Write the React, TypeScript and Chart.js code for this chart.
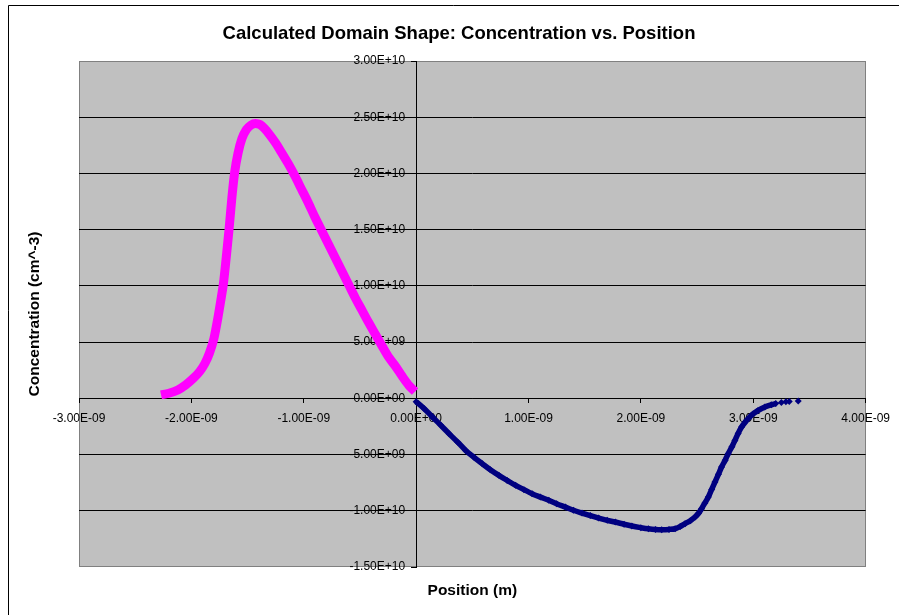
import React, { useEffect, useRef } from 'react';
import { Chart, registerables } from 'chart.js';

Chart.register(...registerables);

const FONT = "'Liberation Sans', Arial, Helvetica, sans-serif";
const MAGENTA = '#FF00FF';
const NAVY = '#000080';

const TITLE = 'Calculated Domain Shape: Concentration vs. Position';
const X_TITLE = 'Position (m)';
const Y_TITLE = 'Concentration (cm^-3)';

const xTickValues = [-3e-9, -2e-9, -1e-9, 0, 1e-9, 2e-9, 3e-9, 4e-9];
const yTickValues = [-1.5e10, -1e10, -5e9, 0, 5e9, 1e10, 1.5e10, 2e10, 2.5e10, 3e10];

// Series 1 (magenta): negative positions
const magentaX = [
  -2.27e-9, -2.2e-9, -2.12e-9, -2.05e-9, -1.98e-9, -1.925e-9, -1.88e-9, -1.84e-9, -1.8e-9, -1.765e-9,
  -1.74e-9, -1.715e-9, -1.69e-9, -1.665e-9, -1.64e-9, -1.615e-9, -1.585e-9, -1.55e-9, -1.51e-9, -1.47e-9,
  -1.43e-9, -1.39e-9, -1.35e-9, -1.3e-9, -1.25e-9, -1.2e-9, -1.14e-9, -1.08e-9, -1.02e-9, -0.96e-9,
  -0.9e-9, -0.84e-9, -0.78e-9, -0.72e-9, -0.66e-9, -0.6e-9, -0.54e-9, -0.48e-9, -0.42e-9, -0.36e-9,
  -0.3e-9, -0.24e-9, -0.18e-9, -0.12e-9, -0.06e-9, -0.01e-9,
];
const magentaY = [
  0.03e10, 0.045e10, 0.075e10, 0.12e10, 0.18e10, 0.24e10, 0.31e10, 0.4e10, 0.53e10, 0.71e10,
  0.86e10, 1.02e10, 1.25e10, 1.5e10, 1.78e10, 2.01e10, 2.18e10, 2.31e10, 2.39e10, 2.43e10,
  2.445e10, 2.435e10, 2.4e10, 2.34e10, 2.27e10, 2.19e10, 2.09e10, 1.98e10, 1.86e10, 1.74e10,
  1.61e10, 1.49e10, 1.37e10, 1.25e10, 1.13e10, 1.01e10, 0.89e10, 0.78e10, 0.67e10, 0.565e10,
  0.46e10, 0.36e10, 0.28e10, 0.19e10, 0.11e10, 0.06e10,
];

// Series 2 (navy): positive positions
const navyX = [
  0, 0.07e-9, 0.145e-9, 0.22e-9, 0.293e-9, 0.37e-9, 0.441e-9, 0.515e-9, 0.588e-9, 0.66e-9,
  0.736e-9, 0.81e-9, 0.885e-9, 0.96e-9, 1.032e-9, 1.105e-9, 1.18e-9, 1.25e-9, 1.328e-9, 1.4e-9,
  1.476e-9, 1.55e-9, 1.624e-9, 1.7e-9, 1.772e-9, 1.85e-9, 1.92e-9, 2.0e-9, 2.067e-9, 2.13e-9,
  2.185e-9, 2.25e-9, 2.304e-9, 2.35e-9, 2.393e-9, 2.44e-9, 2.482e-9, 2.515e-9, 2.54e-9, 2.57e-9,
  2.6e-9, 2.63e-9, 2.659e-9, 2.69e-9, 2.718e-9, 2.75e-9, 2.777e-9, 2.81e-9, 2.837e-9, 2.865e-9,
  2.896e-9, 2.94e-9, 2.984e-9, 3.04e-9, 3.103e-9, 3.16e-9, 3.2e-9, 3.25e-9, 3.29e-9, 3.32e-9,
  3.4e-9,
];
const navyY = [
  -0.03e10, -0.09e10, -0.166e10, -0.24e10, -0.314e10, -0.39e10, -0.463e10, -0.525e10, -0.581e10, -0.635e10,
  -0.685e10, -0.73e10, -0.774e10, -0.812e10, -0.848e10, -0.878e10, -0.907e10, -0.937e10, -0.967e10, -0.995e10,
  -1.02e10, -1.043e10, -1.065e10, -1.085e10, -1.1e10, -1.12e10, -1.136e10, -1.15e10, -1.16e10, -1.166e10,
  -1.168e10, -1.166e10, -1.16e10, -1.14e10, -1.115e10, -1.088e10, -1.056e10, -1.02e10, -0.981e10, -0.93e10,
  -0.878e10, -0.81e10, -0.745e10, -0.676e10, -0.611e10, -0.55e10, -0.492e10, -0.43e10, -0.374e10, -0.312e10,
  -0.255e10, -0.198e10, -0.151e10, -0.11e10, -0.077e10, -0.058e10, -0.047e10, -0.038e10, -0.031e10, -0.028e10,
  -0.024e10,
];

const NAVY_TAIL_START = 3.2e-9;
const Y_LABEL_GAP = 11;

function sci(v: number): string {
  if (Math.abs(v) < 1e-20) return '0.00E+00';
  const [m, e] = v.toExponential(2).split('e');
  const sign = e[0] === '-' ? '-' : '+';
  const digits = e.replace(/^[+-]/, '').padStart(2, '0');
  return `${m}E${sign}${digits}`;
}

const plotBackground = {
  id: 'plotBackground',
  afterUpdate(chart: any) {
    // Chart.js ignores tick padding for y axes placed at a data position; shift labels left.
    const s = chart.scales.y;
    if (s && !s.__shifted) {
      const orig = s.drawLabels.bind(s);
      s.drawLabels = (area: any) => {
        chart.ctx.save();
        chart.ctx.translate(-Y_LABEL_GAP, 0);
        orig(area);
        chart.ctx.restore();
      };
      s.__shifted = true;
    }
  },
  beforeDraw(chart: any) {
    const { ctx, chartArea } = chart;
    const { left, top, right, bottom } = chartArea;
    ctx.save();
    ctx.fillStyle = '#C0C0C0';
    ctx.fillRect(left, top, right - left, bottom - top);
    ctx.strokeStyle = '#808080';
    ctx.lineWidth = 1;
    ctx.strokeRect(Math.round(left) + 0.5, Math.round(top) + 0.5, Math.round(right - left) - 1, Math.round(bottom - top) - 1);
    // outer chart frame
    ctx.strokeStyle = '#000';
    ctx.beginPath();
    ctx.moveTo(8.5, chart.height);
    ctx.lineTo(8.5, 5.5);
    ctx.lineTo(chart.width, 5.5);
    ctx.stroke();
    ctx.restore();
  },
};

export default function App() {
  const ref = useRef<HTMLCanvasElement>(null);

  useEffect(() => {
    const canvas = ref.current;
    if (!canvas) return;
    Chart.defaults.font.family = FONT;

    const tickFont = { family: FONT, size: 12 };
    const axisTitleFont = { family: FONT, size: 15.5, weight: 'bold' as const, lineHeight: 1.2 };

    const chart = new Chart(canvas, {
      type: 'scatter',
      data: {
        datasets: [
          {
            label: 'Negative side',
            data: magentaX.map((x, i) => ({ x, y: magentaY[i] })),
            xAxisID: 'x',
            yAxisID: 'y',
            showLine: true,
            borderColor: MAGENTA,
            backgroundColor: MAGENTA,
            borderWidth: 9,
            borderCapStyle: 'butt',
            borderJoinStyle: 'round',
            cubicInterpolationMode: 'monotone',
            pointRadius: 0,
            pointHoverRadius: 0,
          },
          {
            label: 'Positive side',
            data: navyX.map((x, i) => ({ x, y: navyY[i] })),
            xAxisID: 'x',
            yAxisID: 'y',
            showLine: true,
            borderColor: NAVY,
            backgroundColor: NAVY,
            borderWidth: 5.5,
            cubicInterpolationMode: 'monotone',
            pointStyle: 'rectRot',
            pointRadius: 3.5,
            pointBorderWidth: 0,
            pointBackgroundColor: NAVY,
            pointHoverRadius: 3.5,
            segment: {
              borderColor: (ctx: any) =>
                navyX[ctx.p0DataIndex] >= NAVY_TAIL_START ? 'rgba(0,0,0,0)' : NAVY,
            },
          },
        ],
      },
      options: {
        responsive: false,
        animation: false,
        events: [],
        layout: { padding: { left: 19, right: 0, top: 0, bottom: 0 }, autoPadding: false },
        plugins: {
          legend: { display: false },
          tooltip: { enabled: false },
          title: {
            display: true,
            text: TITLE,
            color: '#000',
            font: { family: FONT, size: 18.5, weight: 'bold', lineHeight: 1.2 },
            padding: { top: 22.9, bottom: 15.9 },
          },
        },
        scales: {
          x: {
            type: 'linear',
            position: { y: 0 },
            min: -3e-9,
            max: 4e-9,
            afterBuildTicks: (s: any) => {
              s.ticks = xTickValues.map((value) => ({ value }));
            },
            ticks: {
              callback: (v: any) => sci(Number(v)),
              font: tickFont,
              color: '#000',
              padding: 9,
              autoSkip: false,
              maxRotation: 0,
              minRotation: 0,
              z: -2,
            },
            grid: {
              drawOnChartArea: false,
              drawTicks: true,
              tickLength: 4,
              tickColor: '#000',
              color: '#000',
            },
            border: { display: true, color: '#000', width: 1 },
          },
          y: {
            type: 'linear',
            position: { x: 0 },
            min: -1.5e10,
            max: 3e10,
            afterBuildTicks: (s: any) => {
              s.ticks = yTickValues.map((value) => ({ value }));
            },
            ticks: {
              callback: (v: any) => sci(Number(v)),
              font: tickFont,
              color: '#000',
              padding: 6,
              autoSkip: false,
              z: -2,
            },
            grid: {
              color: (ctx: any) =>
                ctx.tick && (ctx.tick.value === 3e10 || ctx.tick.value === -1.5e10)
                  ? 'rgba(0,0,0,0)'
                  : '#000',
              tickColor: '#000',
              tickLength: 5,
              lineWidth: 1,
            },
            border: { display: true, color: '#000', width: 1 },
          },
          xTitle: {
            type: 'linear',
            axis: 'x',
            position: 'bottom',
            display: true,
            ticks: { display: false },
            grid: { display: false },
            border: { display: false },
            title: {
              display: true,
              text: X_TITLE,
              color: '#000',
              font: axisTitleFont,
              padding: { top: 0, bottom: 14.7 },
            },
            afterFit: (s: any) => {
              s.height = 48;
            },
          },
          yTitle: {
            type: 'linear',
            axis: 'y',
            position: 'left',
            display: true,
            ticks: { display: false },
            grid: { display: false },
            border: { display: false },
            title: {
              display: true,
              text: Y_TITLE,
              color: '#000',
              font: axisTitleFont,
              padding: { top: 6.7, bottom: 0 },
            },
            afterFit: (s: any) => {
              s.width = 60;
            },
          },
          yPad: {
            type: 'linear',
            axis: 'y',
            position: 'right',
            display: true,
            ticks: { display: false },
            grid: { display: false },
            border: { display: false },
            afterFit: (s: any) => {
              s.width = 31;
            },
          },
        },
      } as any,
      plugins: [plotBackground],
    });

    return () => chart.destroy();
  }, []);

  return (
    <div style={{ position: 'fixed', left: 0, top: 0, width: 899, height: 615, background: '#fff' }}>
      <canvas ref={ref} width={899} height={615} style={{ display: 'block', width: 899, height: 615 }} />
    </div>
  );
}
